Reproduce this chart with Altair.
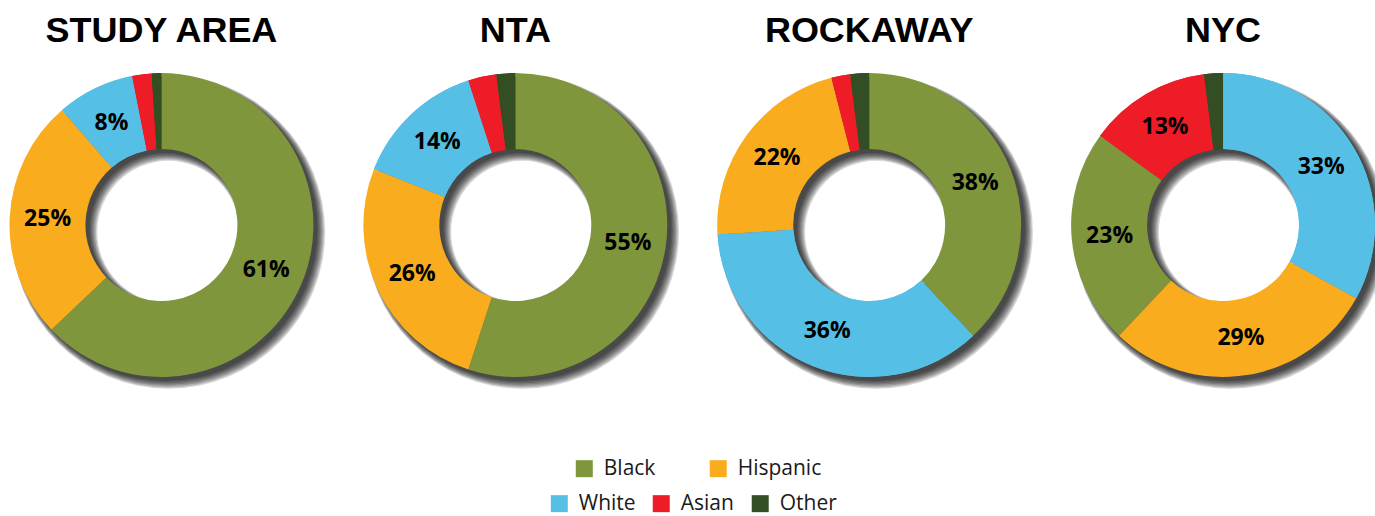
import altair as alt
import pandas as pd

regions = ["STUDY AREA", "NTA", "ROCKAWAY", "NYC"]
groups = ["Black", "Hispanic", "White", "Asian", "Other"]
colors = ["#7f963c", "#f9ac1e", "#56bfe6", "#ee1c27", "#324e22"]
study_area = [61, 25, 8, 2, 1]
nta = [55, 26, 14, 3, 2]
rockaway = [38, 22, 36, 2, 2]
nyc = [23, 29, 33, 13, 2]

rows = []
for r, vals in zip(regions, [study_area, nta, rockaway, nyc]):
    for gi, (g, v) in enumerate(zip(groups, vals)):
        rows.append({"region": r, "group": g, "gidx": gi, "value": v})
df = pd.DataFrame(rows)

R_OUT, R_IN = 152, 76
color_scale = alt.Scale(domain=groups, range=colors)
fill_scale = alt.Scale(domain=groups[2:], range=colors[2:])

base = alt.Chart().transform_joinaggregate(
    total="sum(value)", groupby=["region"]
).transform_window(
    cum="sum(value)", groupby=["region"],
    sort=[alt.SortField("value", order="descending"), alt.SortField("gidx", order="ascending")],
).transform_calculate(
    t0="(datum.cum - datum.value) / datum.total * 2 * PI",
    t1="datum.cum / datum.total * 2 * PI",
    tm="(datum.cum - datum.value / 2) / datum.total * 2 * PI",
    group2="datum.group",
    label="datum.value >= 5 ? datum.value + '%' : ''",
)

shadow_layers = []
for k in range(7):
    shadow_layers.append(
        alt.Chart().transform_aggregate(total="sum(value)", groupby=["region"])
        .mark_arc(outerRadius=R_OUT + k * 0.8, innerRadius=R_IN - k * 0.8,
                  color="#000000", opacity=0.16,
                  xOffset=4 + k * 0.5, yOffset=4 + k * 0.5)
        .encode(theta=alt.Theta("total:Q", stack=True))
    )

legend_common = dict(orient="none", direction="horizontal", title=None,
                     symbolType="square", symbolSize=289, symbolStrokeWidth=0,
                     symbolOpacity=1, labelFont="Open Sans", labelFontSize=21,
                     labelColor="#1a1a1a", labelOffset=9, padding=0)

dummy = base.transform_filter(
    alt.FieldOneOfPredicate(field="group", oneOf=groups[2:])
).mark_arc(outerRadius=R_OUT, innerRadius=R_IN).encode(
    theta=alt.Theta("t0:Q", scale=None),
    theta2="t1:Q",
    fill=alt.Fill("group2:N", scale=fill_scale,
                  legend=alt.Legend(legendX=537.5, legendY=424,
                                    columnPadding=15, **legend_common)),
)

arcs = base.mark_arc(outerRadius=R_OUT, innerRadius=R_IN).encode(
    theta=alt.Theta("t0:Q", scale=None),
    theta2="t1:Q",
    color=alt.Color("group:N", scale=color_scale,
                    legend=alt.Legend(values=groups[:2], legendX=562.5, legendY=389,
                                      columnPadding=52, **legend_common)),
)

labels = base.mark_text(radius=114, font="Open Sans", fontSize=23, fontWeight="bold",
                        color="#000000").encode(
    theta=alt.Theta("tm:Q", scale=None),
    text="label:N",
)

chart = alt.layer(*shadow_layers, dummy, arcs, labels, data=df).properties(
    width=300, height=312
).facet(
    column=alt.Column("region:N", sort=regions, title=None,
                      header=alt.Header(labelFont="Liberation Sans", labelFontSize=36,
                                        labelFontWeight="bold", labelColor="#000000",
                                        labelPadding=19)),
    spacing=54,
    bounds="flush",
).configure_view(stroke=None).properties(
    padding={"left": 9.5, "top": 13, "right": -12, "bottom": 3}
)

chart.save("out.html", embed_options={"renderer": "svg", "actions": False})
